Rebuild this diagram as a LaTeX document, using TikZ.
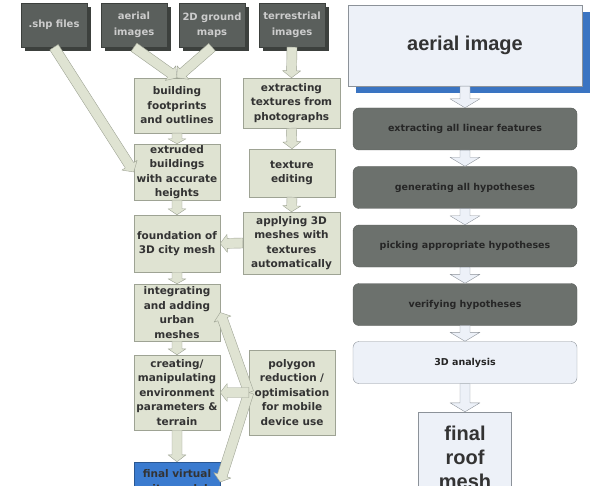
\documentclass[tikz,border=0pt]{standalone}
\usepackage{fontspec}
\setmainfont{Liberation Sans}
\newfontfamily\boxfont{DejaVu Sans}
\usetikzlibrary{calc, shadows}
\definecolor{srcgray}{HTML}{5A5F5C}
\definecolor{srcside}{HTML}{3C403D}
\definecolor{stepgreen}{HTML}{DFE3D2}
\definecolor{stepline}{HTML}{9EA394}
\definecolor{slate}{HTML}{6C716D}
\definecolor{slateline}{HTML}{575B58}
\definecolor{paleblue}{HTML}{EDF1F8}
\definecolor{paleline}{HTML}{8C9299}
\definecolor{cityblue}{HTML}{3B7BCF}
\definecolor{roofshadow}{HTML}{3A74C2}
\definecolor{ink}{HTML}{333333}

% fat block arrow: style, from, to, half shaft, half head, head length
\newcommand\fatarrow[6]{%
  \coordinate (fa-h) at ($(#3)!#6!(#2)$);
  \filldraw[#1] ($(#2)!#4!90:(#3)$) -- ($(fa-h)!#4!90:(#3)$) -- ($(fa-h)!#5!90:(#3)$) -- (#3)
    -- ($(fa-h)!#5!-90:(#3)$) -- ($(fa-h)!#4!-90:(#3)$) -- ($(#2)!#4!-90:(#3)$) -- cycle;}

\begin{document}
\begin{tikzpicture}[x=1pt,y=-1pt,
    srcbox/.style={fill=srcgray, draw=srcside, minimum width=66pt, minimum height=44pt,
      text width=64pt, align=center, inner sep=1pt, text=white!80!black,
      font=\boxfont\bfseries\fontsize{10}{15.5}\selectfont,
      general shadow={fill=srcside, shadow xshift=4pt, shadow yshift=-4pt}},
    stepbox/.style={fill=stepgreen, draw=stepline, minimum width=86pt, text width=85pt,
      align=center, inner xsep=0.5pt, inner ysep=0pt, text=ink,
      font=\boxfont\bfseries\fontsize{10.5}{14.5}\selectfont},
    darkstep/.style={rounded corners=6pt, fill=slate, draw=slateline, minimum width=224pt,
      minimum height=42pt, text=black!85, font=\boxfont\bfseries\fontsize{9.5}{11}\selectfont},
    greenarrow/.style={fill=stepgreen, draw=stepline, line join=round},
    palearrow/.style={fill=paleblue, draw=paleline, line join=round}]
\useasboundingbox (0,0) rectangle (596,486);
\clip (0,0) rectangle (596,486);

% sources
\node[srcbox] (shp) at (54,25) {.shp files};
\node[srcbox] (aer) at (134,25) {aerial\\images};
\node[srcbox] (map) at (212,25) {2D ground\\maps};
\node[srcbox] (ter) at (292,25) {terrestrial\\images};

% left chain
\node[stepbox, minimum height=55pt] (foot) at (177,105.5) {building\\footprints\\and outlines};
\node[stepbox, minimum height=56pt] (extr) at (177,172) {extruded\\buildings\\with accurate\\heights};
\node[stepbox, minimum height=57pt] (fnd) at (177,243.5) {foundation of\\3D city mesh};
\node[stepbox, minimum height=57pt] (intg) at (177,312.5) {integrating\\and adding\\urban\\meshes};
\node[stepbox, minimum height=75pt] (env) at (177,392.5) {creating/\\manipulating\\environment\\parameters \&\\terrain};
\node[stepbox, minimum height=40pt, fill=cityblue, draw=cityblue!70!black] (city) at (177,482) {final virtual\\city model};

% texture chain
\node[stepbox, minimum width=97pt, minimum height=50pt] (tex) at (291.5,103) {extracting\\textures from\\photographs};
\node[stepbox, minimum width=84pt, minimum height=48pt] (edit) at (292,173) {texture\\editing};
\node[stepbox, minimum width=97pt, minimum height=62pt] (apply) at (291.5,243) {applying 3D\\meshes with\\textures\\automatically};
\node[stepbox, minimum width=84pt, minimum height=85pt] (poly) at (292,392.5) {polygon\\reduction /\\optimisation\\for mobile\\device use};

% roof pipeline
\node[fill=paleblue, draw=paleline, minimum width=234pt, minimum height=81pt, text=ink,
  font=\bfseries\fontsize{20}{23}\selectfont,
  general shadow={fill=roofshadow, shadow xshift=8pt, shadow yshift=-7pt}] (img) at (465,45.5) {aerial image};
\node[darkstep] (lin) at (465,129) {extracting all linear features};
\node[darkstep] (gen) at (465,187.5) {generating all hypotheses};
\node[darkstep] (pick) at (465,246) {picking appropriate hypotheses};
\node[darkstep] (ver) at (465,304.5) {verifying hypotheses};
\node[darkstep, fill=paleblue, draw=paleline] (ana) at (465,362.5) {3D analysis};
\node[fill=paleblue, draw=paleline, minimum width=88pt, minimum height=90pt, text width=86pt,
  align=center, text=ink, font=\bfseries\fontsize{20}{24}\selectfont] (roof) at (465,457) {final\\roof\\mesh};

% arrows, left
\fatarrow{greenarrow}{shp.south}{extr.west}{5pt}{9pt}{8pt}
\fatarrow{greenarrow}{aer.south}{foot.north}{5pt}{9pt}{8pt}
\fatarrow{greenarrow}{map.south}{foot.north}{5pt}{9pt}{8pt}
\fatarrow{greenarrow}{ter.south}{tex.north}{5pt}{9pt}{7pt}
\fatarrow{greenarrow}{foot.south}{extr.north}{5pt}{9pt}{5pt}
\fatarrow{greenarrow}{extr.south}{fnd.north}{5pt}{9pt}{6pt}
\fatarrow{greenarrow}{fnd.south}{intg.north}{5pt}{9pt}{5pt}
\fatarrow{greenarrow}{intg.south}{env.north}{5pt}{9pt}{6pt}
\fatarrow{greenarrow}{env.south}{city.north}{5pt}{9pt}{7pt}
\fatarrow{greenarrow}{tex.south}{edit.north}{5pt}{9pt}{7pt}
\fatarrow{greenarrow}{edit.south}{apply.north}{5pt}{9pt}{6pt}
\fatarrow{greenarrow}{apply.west}{fnd.east}{5pt}{9pt}{7pt}
\fatarrow{greenarrow}{poly.west}{intg.east}{5pt}{9pt}{7pt}
\fatarrow{greenarrow}{poly.west}{city.east}{5pt}{9pt}{7pt}
\fatarrow{greenarrow}{poly.west}{env.east}{5pt}{9pt}{7pt}

% arrows, right
\fatarrow{palearrow}{img.south}{lin.north}{5pt}{15pt}{9pt}
\fatarrow{palearrow}{lin.south}{gen.north}{5pt}{15pt}{9pt}
\fatarrow{palearrow}{gen.south}{pick.north}{5pt}{15pt}{9pt}
\fatarrow{palearrow}{pick.south}{ver.north}{5pt}{15pt}{9pt}
\fatarrow{palearrow}{ver.south}{ana.north}{5pt}{15pt}{9pt}
\fatarrow{palearrow}{ana.south}{roof.north}{5pt}{15pt}{9pt}
\end{tikzpicture}
\end{document}
